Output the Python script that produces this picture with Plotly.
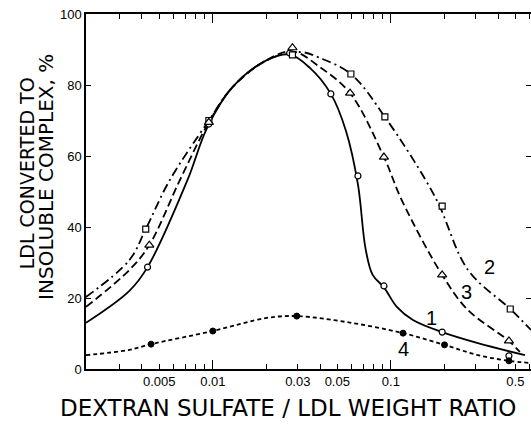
import plotly.graph_objects as go
import math

# ---------- data ----------
# measured points (markers)
s1_x = [0.0043, 0.0095, 0.027, 0.046, 0.0653, 0.0914, 0.194, 0.46]
s1_y = [28.7, 69.0, 89.0, 77.5, 54.4, 23.4, 10.4, 3.7]
s2_x = [0.0042, 0.0095, 0.028, 0.0596, 0.0925, 0.194, 0.468]
s2_y = [39.4, 70.0, 88.5, 83.1, 71.0, 45.9, 16.9]
s3_x = [0.0044, 0.0095, 0.028, 0.059, 0.0914, 0.194, 0.46]
s3_y = [34.9, 69.5, 90.5, 77.7, 59.7, 26.5, 7.9]
s4_x = [0.0045, 0.010, 0.0296, 0.117, 0.20, 0.46]
s4_y = [7.0, 10.7, 14.9, 10.1, 6.8, 2.3]

# fitted curves
c1_x = [0.00194, 0.0034, 0.0043, 0.0072, 0.0093, 0.0129, 0.0201, 0.027, 0.0351, 0.046,
        0.056, 0.0653, 0.072, 0.079, 0.0914, 0.108, 0.133, 0.194, 0.308, 0.566]
c1_y = [13.0, 22.0, 28.7, 53.2, 68.0, 79.4, 87.0, 88.6, 84.8, 77.5,
        67.0, 52.0, 34.0, 26.5, 23.0, 17.5, 13.8, 10.4, 7.3, 3.9]
c2_x = [0.00194, 0.0034, 0.0042, 0.0057, 0.0095, 0.0129, 0.0201, 0.0308, 0.040, 0.0596,
        0.0925, 0.177, 0.271, 0.468, 0.612]
c2_y = [20.3, 30.7, 39.4, 53.0, 70.0, 79.4, 87.0, 89.3, 87.6, 83.1,
        71.0, 48.5, 27.9, 16.9, 11.0]
c3_x = [0.00194, 0.0034, 0.0044, 0.0065, 0.0095, 0.0129, 0.0201, 0.028, 0.040, 0.059,
        0.0914, 0.115, 0.194, 0.271, 0.46, 0.53]
c3_y = [17.5, 27.9, 34.9, 53.0, 69.5, 79.4, 87.0, 89.5, 85.0, 77.7,
        59.7, 47.6, 26.5, 16.6, 7.9, 4.8]
c4_x = [0.00194, 0.0034, 0.0045, 0.010, 0.0201, 0.0296, 0.0567, 0.117, 0.20, 0.308, 0.46, 0.612]
c4_y = [3.9, 5.4, 7.0, 10.7, 14.4, 14.9, 13.2, 10.1, 6.8, 3.9, 2.3, 1.7]

x_ticks = [0.005, 0.01, 0.03, 0.05, 0.1, 0.5]
x_ticktext = ["0.005", "0.01", "0.03", "0.05", "0.1", "0.5"]
x_minor = [0.003, 0.004, 0.006, 0.007, 0.008, 0.009, 0.02, 0.04, 0.06, 0.07, 0.08, 0.09,
           0.2, 0.3, 0.4, 0.6]
x_long = [0.01, 0.1]
y_ticks = [0, 20, 40, 60, 80, 100]
y_right = [20, 40, 60, 80]

curve_labels = ["1", "2", "3", "4"]
label_x = [0.170, 0.360, 0.267, 0.117]
label_y = [14.4, 28.7, 21.7, 5.6]

# ---------- figure ----------
FONT = "Liberation Sans"
TFONT = "DejaVu Sans"
fig = go.Figure()

lw = 1.8
fig.add_trace(go.Scatter(x=c1_x, y=c1_y, mode="lines", line=dict(color="black", width=lw, shape="spline", smoothing=1.0)))
fig.add_trace(go.Scatter(x=c2_x, y=c2_y, mode="lines", line=dict(color="black", width=lw, shape="spline", smoothing=1.0, dash="9px,4px,2px,4px")))
fig.add_trace(go.Scatter(x=c3_x, y=c3_y, mode="lines", line=dict(color="black", width=lw, shape="spline", smoothing=1.0, dash="8px,4px")))
fig.add_trace(go.Scatter(x=c4_x, y=c4_y, mode="lines", line=dict(color="black", width=lw, shape="spline", smoothing=1.0, dash="4px,3px")))

fig.add_trace(go.Scatter(x=s1_x, y=s1_y, mode="markers",
                         marker=dict(symbol="circle", size=6, color="white", line=dict(color="black", width=1.2))))
fig.add_trace(go.Scatter(x=s2_x, y=s2_y, mode="markers",
                         marker=dict(symbol="square", size=6, color="white", line=dict(color="black", width=1.2))))
fig.add_trace(go.Scatter(x=s3_x, y=s3_y, mode="markers",
                         marker=dict(symbol="triangle-up", size=8, color="white", line=dict(color="black", width=1.2))))
fig.add_trace(go.Scatter(x=s4_x, y=s4_y, mode="markers",
                         marker=dict(symbol="circle", size=6, color="black", line=dict(color="black", width=1))))
# invisible traces to anchor the overlay axes
fig.add_trace(go.Scatter(x=[x_long[0]], y=[50], xaxis="x2", mode="markers", marker=dict(opacity=0), hoverinfo="skip"))
fig.add_trace(go.Scatter(x=[x_long[0]], y=[50], yaxis="y2", mode="markers", marker=dict(opacity=0), hoverinfo="skip"))

xr = [math.log10(0.00194), math.log10(0.612)]

for t, xv, yv in zip(curve_labels, label_x, label_y):
    fig.add_annotation(x=math.log10(xv), y=yv, text=t, showarrow=False,
                       font=dict(family=FONT, size=20, color="black"))

fig.add_annotation(xref="paper", yref="paper", x=0.455, y=-0.11, xanchor="center", yanchor="middle",
                   text="DEXTRAN SULFATE / LDL WEIGHT RATIO",
                   showarrow=False, font=dict(family=TFONT, size=23, color="black"))
fig.add_annotation(xref="paper", yref="paper", x=-0.132, y=0.552, xanchor="center", yanchor="middle",
                   text="LDL CONVERTED TO", textangle=-90,
                   showarrow=False, font=dict(family=TFONT, size=19, color="black"))
fig.add_annotation(xref="paper", yref="paper", x=-0.090, y=0.541, xanchor="center", yanchor="middle",
                   text="INSOLUBLE COMPLEX, %", textangle=-90,
                   showarrow=False, font=dict(family=TFONT, size=20, color="black"))

fig.update_layout(
    width=531, height=425,
    margin=dict(l=86, r=0, t=14, b=56),
    paper_bgcolor="white", plot_bgcolor="white",
    showlegend=False,
    xaxis=dict(type="log", range=xr, tickvals=x_ticks, ticktext=x_ticktext,
               ticks="inside", ticklen=5, tickwidth=1.2, tickcolor="black",
               showline=True, linecolor="black", linewidth=1.5, mirror="ticks",
               showgrid=False, zeroline=False,
               tickfont=dict(family=FONT, size=13, color="black"),
               minor=dict(tickvals=x_minor, ticks="inside", ticklen=5, tickwidth=1.2, tickcolor="black", showgrid=False)),
    xaxis2=dict(type="log", range=xr, overlaying="x", anchor="y", side="bottom",
                tickvals=x_long, ticks="inside", ticklen=9, tickwidth=1.4, tickcolor="black",
                showticklabels=False, showline=False, mirror="ticks", showgrid=False, zeroline=False),
    yaxis=dict(range=[0, 100], tickvals=y_ticks, ticks="inside", ticklen=5, tickwidth=1.2, tickcolor="black",
               showline=True, linecolor="black", linewidth=1.5, showgrid=False, zeroline=False,
               tickfont=dict(family=FONT, size=13, color="black")),
    yaxis2=dict(range=[0, 100], overlaying="y", side="right", anchor="x",
                tickvals=y_right, ticks="inside", ticklen=5, tickwidth=1.2, tickcolor="black",
                showticklabels=False, showline=False, showgrid=False, zeroline=False),
)

fig.write_html("out.html")
